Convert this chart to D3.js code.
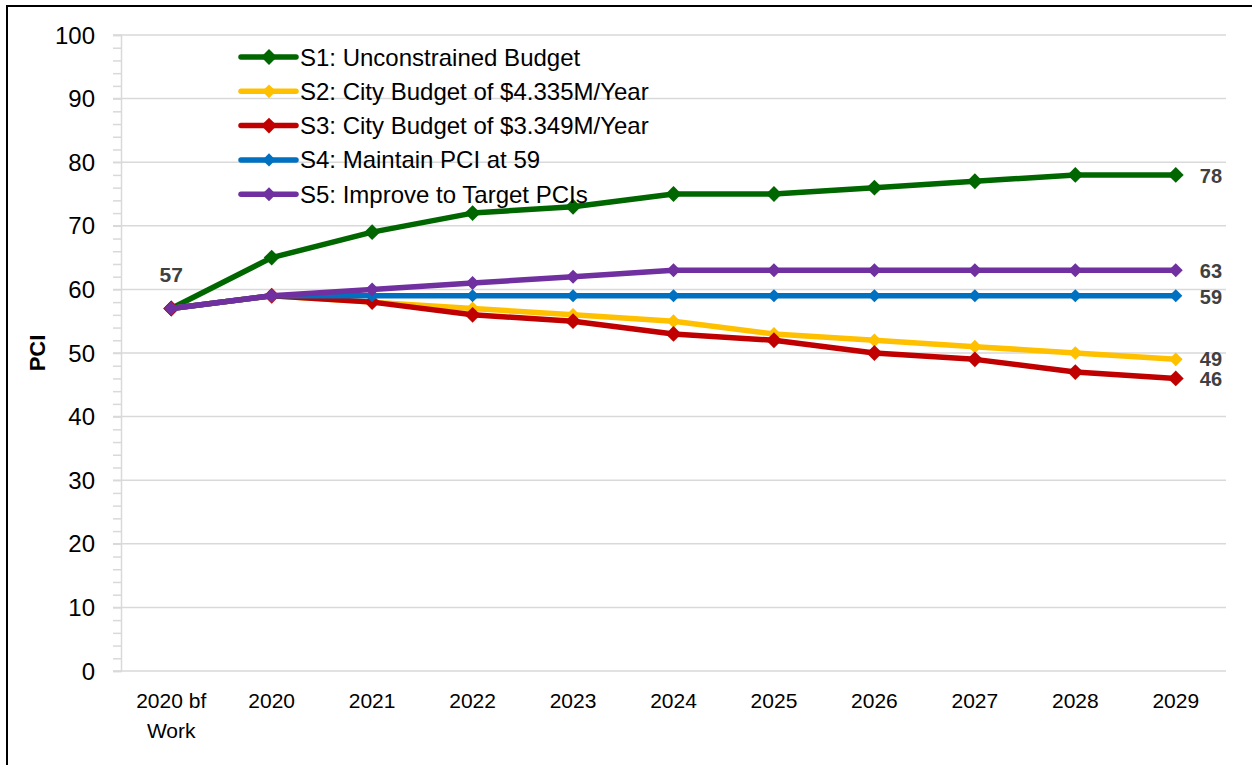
<!DOCTYPE html>
<html>
<head>
<meta charset="utf-8">
<script src="https://cdn.jsdelivr.net/npm/d3@7"></script>
<style>
  body { margin: 0; background: #fff; }
  svg { display: block; font-family: "Liberation Sans", Arial, sans-serif; }
</style>
</head>
<body>
<div id="chart"></div>
<script>
// categories and series values
const years = ["2020 bf Work", "2020", "2021", "2022", "2023", "2024", "2025", "2026", "2027", "2028", "2029"];
const s1 = [57, 65, 69, 72, 73, 75, 75, 76, 77, 78, 78];
const s2 = [57, 59, 58, 57, 56, 55, 53, 52, 51, 50, 49];
const s3 = [57, 59, 58, 56, 55, 53, 52, 50, 49, 47, 46];
const s4 = [57, 59, 59, 59, 59, 59, 59, 59, 59, 59, 59];
const s5 = [57, 59, 60, 61, 62, 63, 63, 63, 63, 63, 63];
const seriesNames = ["S1: Unconstrained Budget", "S2: City Budget of $4.335M/Year",
  "S3: City Budget of $3.349M/Year", "S4: Maintain PCI at 59", "S5: Improve to Target PCIs"];
const yTicks = [0, 10, 20, 30, 40, 50, 60, 70, 80, 90, 100];

const colors = ["#006600", "#FFC000", "#C00000", "#0070C0", "#7030A0"];
const markerSize = [160, 120, 160, 110, 125];
const allSeries = [s1, s2, s3, s4, s5].map((v, i) => ({name: seriesNames[i], values: v, color: colors[i], size: markerSize[i]}));

const width = 1252, height = 765;
const plotL = 121, plotR = 1226, plotT = 35, plotB = 671;

const svg = d3.select("#chart").append("svg")
  .attr("width", width).attr("height", height);

// outer frame (only left and top show inside the window)
svg.append("rect")
  .attr("x", 7).attr("y", 6).attr("width", 1300).attr("height", 800)
  .attr("fill", "none").attr("stroke", "#000").attr("stroke-width", 2);

const x = d3.scalePoint().domain(years).range([plotL, plotR]).padding(0.5);
const y = d3.scaleLinear().domain([0, 100]).range([plotB, plotT]);

// gridlines
svg.append("g").selectAll("line")
  .data(yTicks).enter().append("line")
  .attr("x1", plotL - 8).attr("x2", plotR)
  .attr("y1", d => y(d)).attr("y2", d => y(d))
  .attr("stroke", "#d9d9d9").attr("stroke-width", 1.5);

// y axis with minor ticks
const yAxis = svg.append("g").attr("transform", `translate(${plotL},0)`)
  .call(d3.axisLeft(y).tickValues(d3.range(0, 101, 2)).tickSize(8).tickFormat(""));
yAxis.select(".domain").attr("stroke", "#d9d9d9").attr("stroke-width", 1.5);
yAxis.selectAll(".tick line").attr("stroke", "#d9d9d9").attr("stroke-width", 1.5);

svg.append("g").selectAll("text")
  .data(yTicks).enter().append("text")
  .attr("x", 95).attr("y", d => y(d) + 8.5)
  .attr("text-anchor", "end")
  .style("font-size", "24px").attr("fill", "#000")
  .text(d => d);

// x labels
const xl = svg.append("g").selectAll("text")
  .data(years).enter().append("text")
  .attr("x", d => x(d)).attr("y", 708)
  .attr("text-anchor", "middle")
  .style("font-size", "21px").attr("fill", "#000");
xl.each(function(d) {
  const parts = d === "2020 bf Work" ? ["2020 bf", "Work"] : [d];
  parts.forEach((p, i) => {
    d3.select(this).append("tspan").attr("x", x(d)).attr("dy", i ? 30 : 0).text(p);
  });
});

// y title
svg.append("text")
  .attr("transform", "translate(45,353) rotate(-90)")
  .attr("text-anchor", "middle")
  .style("font-size", "22px").style("font-weight", "bold")
  .text("PCI");

// lines and markers
const line = d3.line().x((d, i) => x(years[i])).y(d => y(d));
const diamond = d3.symbol().type(d3.symbolDiamond2);

allSeries.forEach(s => {
  const g = svg.append("g");
  g.append("path").datum(s.values)
    .attr("d", line).attr("fill", "none")
    .attr("stroke", s.color).attr("stroke-width", 5.5)
    .attr("stroke-linejoin", "round");
  g.selectAll("path.m").data(s.values).enter().append("path")
    .attr("class", "m")
    .attr("transform", (d, i) => `translate(${x(years[i])},${y(d)})`)
    .attr("d", diamond.size(s.size)())
    .attr("fill", s.color);
});

// data labels
const lastYear = years[years.length - 1];
svg.append("text")
  .attr("x", x(years[0])).attr("y", y(s1[0]) - 26)
  .attr("text-anchor", "middle")
  .style("font-size", "21px").style("font-weight", "bold").attr("fill", "#404040")
  .text(s1[0]);
svg.append("g").selectAll("text")
  .data(allSeries).enter().append("text")
  .attr("x", x(lastYear) + 24)
  .attr("y", (s, i) => y(s.values[s.values.length - 1]) + (i === 1 ? 7 : 8))
  .style("font-size", "20px").style("font-weight", "bold").attr("fill", "#404040")
  .text(s => s.values[s.values.length - 1]);

// legend
const leg = svg.append("g").attr("transform", "translate(241,57)");
allSeries.forEach((s, i) => {
  const r = leg.append("g").attr("transform", `translate(0,${i * 34.3})`);
  r.append("line").attr("x1", 0).attr("x2", 55).attr("y1", 0).attr("y2", 0)
    .attr("stroke", s.color).attr("stroke-width", 5.5).attr("stroke-linecap", "round");
  r.append("path").attr("transform", "translate(28,0)")
    .attr("d", diamond.size(s.size)()).attr("fill", s.color);
  r.append("text").attr("x", 59).attr("y", 8.5)
    .style("font-size", "24px").attr("fill", "#000")
    .text(s.name);
});
</script>
</body>
</html>
